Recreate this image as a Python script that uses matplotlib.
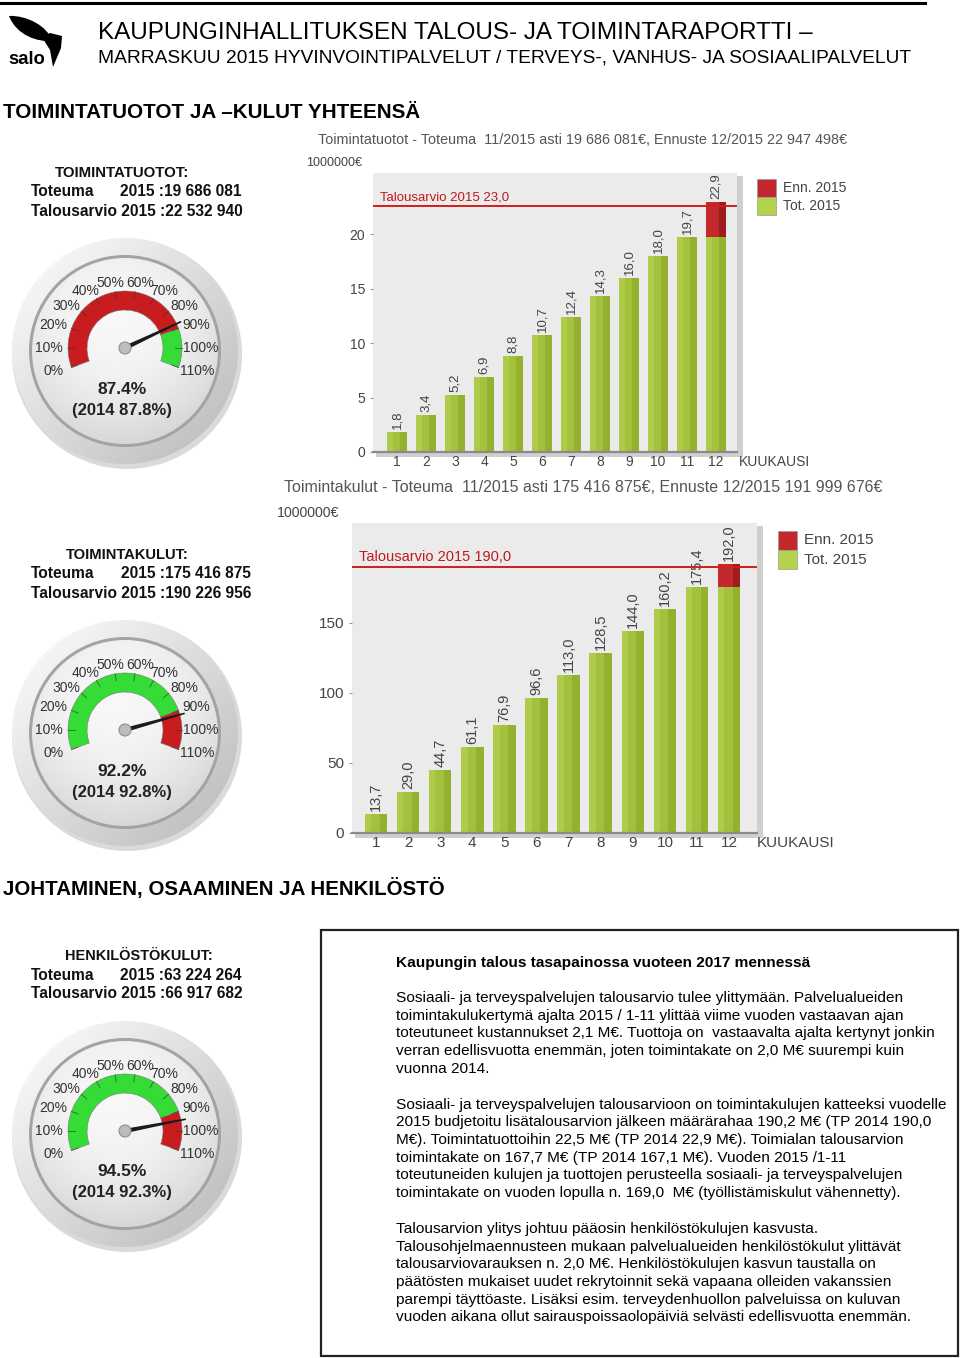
import numpy as np
import matplotlib
matplotlib.use("Agg")
import matplotlib.pyplot as plt
from matplotlib.patches import Circle, Wedge, Rectangle, Polygon, PathPatch
from matplotlib.path import Path

plt.rcParams['font.family'] = ['Liberation Sans', 'DejaVu Sans']

W, H = 960, 1358

# ---- data ----
months = list(range(1, 13))
last_actual = 11  # month 12 is forecast (Enn.)
tuotot = [1.8, 3.4, 5.2, 6.9, 8.8, 10.7, 12.4, 14.3, 16.0, 18.0, 19.7, 22.9]
tuotot_ta = 22.53
tuotot_ta_label = "Talousarvio 2015 23,0"
tuotot_title = "Toimintatuotot - Toteuma  11/2015 asti 19 686 081€, Ennuste 12/2015 22 947 498€"
kulut = [13.7, 29.0, 44.7, 61.1, 76.9, 96.6, 113.0, 128.5, 144.0, 160.2, 175.4, 192.0]
kulut_ta = 190.2
kulut_ta_label = "Talousarvio 2015 190,0"
kulut_title = "Toimintakulut - Toteuma  11/2015 asti 175 416 875€, Ennuste 12/2015 191 999 676€"
legend_labels = ["Enn. 2015", "Tot. 2015"]

gauge_titles = ["TOIMINTATUOTOT:", "TOIMINTAKULUT:", "HENKILÖSTÖKULUT:"]
gauge_toteuma = ["19 686 081", "175 416 875", "63 224 264"]
gauge_budget = ["22 532 940", "190 226 956", "66 917 682"]
gauge_pct = [87.4, 92.2, 94.5]
gauge_prev = [87.8, 92.8, 92.3]
gauge_ticks = list(range(0, 111, 10))
gauge_split = 90

text_title = "Kaupungin talous tasapainossa vuoteen 2017 mennessä"
text_lines = [
    "Sosiaali- ja terveyspalvelujen talousarvio tulee ylittymään. Palvelualueiden",
    "toimintakulukertymä ajalta 2015 / 1-11 ylittää viime vuoden vastaavan ajan",
    "toteutuneet kustannukset 2,1 M€. Tuottoja on  vastaavalta ajalta kertynyt jonkin",
    "verran edellisvuotta enemmän, joten toimintakate on 2,0 M€ suurempi kuin",
    "vuonna 2014.",
    "",
    "Sosiaali- ja terveyspalvelujen talousarvioon on toimintakulujen katteeksi vuodelle",
    "2015 budjetoitu lisätalousarvion jälkeen määrärahaa 190,2 M€ (TP 2014 190,0",
    "M€). Toimintatuottoihin 22,5 M€ (TP 2014 22,9 M€). Toimialan talousarvion",
    "toimintakate on 167,7 M€ (TP 2014 167,1 M€). Vuoden 2015 /1-11",
    "toteutuneiden kulujen ja tuottojen perusteella sosiaali- ja terveyspalvelujen",
    "toimintakate on vuoden lopulla n. 169,0  M€ (työllistämiskulut vähennetty).",
    "",
    "Talousarvion ylitys johtuu pääosin henkilöstökulujen kasvusta.",
    "Talousohjelmaennusteen mukaan palvelualueiden henkilöstökulut ylittävät",
    "talousarviovarauksen n. 2,0 M€. Henkilöstökulujen kasvun taustalla on",
    "päätösten mukaiset uudet rekrytoinnit sekä vapaana olleiden vakanssien",
    "parempi täyttöaste. Lisäksi esim. terveydenhuollon palveluissa on kuluvan",
    "vuoden aikana ollut sairauspoissaolopäiviä selvästi edellisvuotta enemmän.",
]

RED = '#c81c1e'
GREEN = '#35dc35'
BAR_G = '#a3c13c'
BAR_R = '#c3282c'

fig = plt.figure(figsize=(W / 100, H / 100), dpi=100)
bg = fig.add_axes([0, 0, 1, 1])
bg.axis('off')
renderer = fig.canvas.get_renderer()


def fit(x, y, s, width, size=10, **kw):
    # draw text and scale it so it spans `width` pixels
    kw.setdefault('va', 'center')
    t = bg.text(x, y, s, fontsize=size, **kw)
    w = t.get_window_extent(renderer).width
    t.set_fontsize(size * width / w)
    return t


def disc_image(cx, cy, r, vals, z):
    clip = Circle((cx, cy), r, fc='none', ec='none')
    bg.add_patch(clip)
    im = bg.imshow(vals, extent=(cx - r, cx + r, cy + r, cy - r), cmap='gray',
                   vmin=0, vmax=1, zorder=z, interpolation='bilinear')
    im.set_clip_path(clip)


def gauge(hx, hy, k):
    pct = gauge_pct[k]
    cy = hy + 3
    n = 200
    yy, xx = np.mgrid[-1:1:n * 1j, -1:1:n * 1j]
    bg.add_patch(Circle((hx + 2, cy + 3), 115, fc='#dadada', ec='none', zorder=1))
    disc_image(hx, cy, 113, 0.86 - 0.07 * (xx + yy), 2)
    bg.add_patch(Circle((hx, cy), 96, fc='#a3a3a3', ec='none', zorder=3))
    disc_image(hx, cy, 93, 0.97 - 0.07 * ((xx + 0.1) ** 2 + (yy + 0.35) ** 2), 4)

    low, high = (RED, GREEN) if k == 0 else (GREEN, RED)
    for p0, p1, c in [(0, gauge_split, low), (gauge_split, 110, high)]:
        bg.add_patch(Wedge((hx, hy), 57, 2 * p0 - 200, 2 * p1 - 200, width=19,
                           fc=c, ec='#777777', lw=0.4, zorder=5))
    for p in gauge_ticks:
        a = np.radians(200 - 2 * p)
        bg.plot([hx + 50 * np.cos(a), hx + 57 * np.cos(a)],
                [hy - 50 * np.sin(a), hy - 57 * np.sin(a)],
                color='#333333', lw=0.7, alpha=0.6, zorder=6)
        bg.text(hx + 74 * np.cos(a) + 2.2 * np.sign(np.cos(a)), hy - 66 * np.sin(a),
                f"{p}%", fontsize=10, color='#333333', ha='center', va='center', zorder=6)

    a = np.radians(200 - 2 * pct)
    d = np.array([np.cos(a), -np.sin(a)])
    nrm = np.array([-d[1], d[0]])
    base = np.array([hx, hy])
    tip = base + 62 * d
    bg.add_patch(Polygon([base + 2.2 * nrm, tip + 0.8 * nrm, tip - 0.8 * nrm, base - 2.2 * nrm],
                         fc='#1a1a1a', ec='none', zorder=7))
    bg.add_patch(Circle((hx, hy), 6, fc='#bdbdbd', ec='#8f8f8f', lw=0.8, zorder=8))

    bg.text(hx - 3, hy + 41, f"{pct:.1f}%", fontsize=12.5, weight='bold',
            color='#222222', ha='center', va='center', zorder=6)
    bg.text(hx - 3, hy + 62, f"(2014 {gauge_prev[k]:.1f}%)", fontsize=12,
            weight='bold', color='#222222', ha='center', va='center', zorder=6)


def gauge_header(hy, k, title_cx, title_w, right):
    fit(title_cx, hy - 175, gauge_titles[k], title_w, size=12,
        weight='bold', color='#111111', ha='center')
    t = fit(31, hy - 137, f"Talousarvio 2015 :{gauge_budget[k]}", right - 31, size=12,
            weight='bold', color='#111111', ha='left')
    fs = t.get_fontsize()
    bg.text(31, hy - 156, "Toteuma", fontsize=fs, weight='bold',
            color='#111111', ha='left', va='center')
    bg.text(right, hy - 156, f"2015 :{gauge_toteuma[k]}", fontsize=fs,
            weight='bold', color='#111111', ha='right', va='center')


def bar_chart(box, vals, ta, ta_label, ymax, yticks, xlim, fs):
    x0, y0, x1, y1 = box
    bg.add_patch(Rectangle((x0 + 3, y0 + 3), x1 - x0 + 3, y1 - y0 + 2,
                           fc='#cfcfcf', ec='none'))
    ax = fig.add_axes([x0 / W, 1 - y1 / H, (x1 - x0) / W, (y1 - y0) / H])
    ax.set_facecolor('#ebebeb')
    m = np.array(months)
    v = np.array(vals)
    green = np.where(m <= last_actual, v, v[last_actual - 1])
    fc = m > last_actual
    ax.bar(m, green, width=0.7, color=BAR_G, zorder=2)
    ax.bar(m - 0.25, green, width=0.2, color='#afcb4a', zorder=2)
    ax.bar(m + 0.23, green, width=0.24, color='#93b02f', zorder=2)
    ax.bar(m[fc], v[fc] - green[fc], bottom=green[fc], width=0.7, color=BAR_R, zorder=2)
    ax.bar(m[fc] + 0.23, v[fc] - green[fc], bottom=green[fc], width=0.24,
           color='#9e1c20', zorder=2)
    for mi, vi in zip(m, v):
        ax.annotate(f"{vi:.1f}".replace('.', ','), (mi, vi), xytext=(0, 3),
                    textcoords='offset pixels', rotation=90, ha='center', va='bottom',
                    fontsize=fs, color='#444444')
    ax.axhline(ta, color='#d01e1e', lw=1.4, zorder=3)
    ax.annotate(ta_label, (0, ta), xycoords=('axes fraction', 'data'), xytext=(7, 3),
                textcoords='offset pixels', va='bottom', ha='left', fontsize=fs,
                color='#c0191e')
    ax.set_xlim(*xlim)
    ax.set_ylim(0, ymax)
    ax.set_xticks(m)
    ax.set_yticks(yticks)
    ax.tick_params(axis='x', length=0, pad=2, labelsize=fs + 0.5, labelcolor='#444444')
    ax.tick_params(axis='y', length=2.5, width=0.8, color='#999999', pad=3,
                   labelsize=fs + 0.5, labelcolor='#444444')
    for s in ['top', 'left', 'right']:
        ax.spines[s].set_visible(False)
    ax.spines['bottom'].set_color('#8a8a8a')
    ax.spines['bottom'].set_linewidth(1.6)
    return ax


# ---- header ----
bg.plot([0, 925], [3, 3], color='black', lw=2.2)
leaf = Path([(9, 16), (26, 15), (48, 26), (52, 41), (38, 42), (17, 36), (9, 16)],
            [Path.MOVETO, Path.CURVE4, Path.CURVE4, Path.CURVE4, Path.CURVE4,
             Path.CURVE4, Path.CURVE4])
bg.add_patch(PathPatch(leaf, fc='black', ec='none'))
bg.add_patch(Polygon([(42, 37), (50, 33), (62, 36), (61, 48), (53, 67), (50, 50), (45, 42)],
                     fc='black', ec='none'))
fit(8, 59, "salo", 37, size=16, weight='bold', color='black', ha='left')
fit(98, 33, "KAUPUNGINHALLITUKSEN TALOUS- JA TOIMINTARAPORTTI –", 714, size=17,
    color='black', ha='left')
fit(98, 58, "MARRASKUU 2015 HYVINVOINTIPALVELUT / TERVEYS-, VANHUS- JA SOSIAALIPALVELUT",
    809, size=13, color='black', ha='left')
fit(3, 112, "TOIMINTATUOTOT JA –KULUT YHTEENSÄ", 419, size=14, weight='bold',
    color='black', ha='left')
fit(3, 888, "JOHTAMINEN, OSAAMINEN JA HENKILÖSTÖ", 444, size=14, weight='bold',
    color='black', ha='left')

# ---- gauges ----
gauge_header(348, 0, 122, 134, 242)
gauge(125, 348, 0)
gauge_header(730, 1, 127, 123, 251)
gauge(125, 730, 1)
gauge_header(1131, 2, 139, 147, 242)
gauge(125, 1131, 2)

# ---- bar charts ----
fit(318, 140, tuotot_title, 528, size=10, color='#555555', ha='left')
fit(306, 163, "1000000€", 56, size=9, color='#444444', ha='left')
bar_chart((373, 173, 737, 452), tuotot, tuotot_ta, tuotot_ta_label, 25.6,
          [0, 5, 10, 15, 20], (0.17, 12.72), 9.5)
bg.text(739, 462, "KUUKAUSI", fontsize=10, color='#444444', ha='left', va='center')

fit(284, 487, kulut_title, 598, size=11, color='#555555', ha='left')
fit(277, 513, "1000000€", 63, size=10, color='#444444', ha='left')
bar_chart((352, 523, 757, 833), kulut, kulut_ta, kulut_ta_label, 221.4,
          [0, 50, 100, 150], (0.25, 12.87), 10.5)
bg.text(757, 843, "KUUKAUSI", fontsize=11, color='#444444', ha='left', va='center')

# legends
for (lx, ly, sq, fs) in [(757, 179, 18, 10), (778, 531, 19, 11)]:
    for i, (lab, c) in enumerate(zip(legend_labels, [BAR_R, '#b5d24e'])):
        bg.add_patch(Rectangle((lx, ly + i * sq), 19, sq, fc=c, ec='#999999', lw=0.5))
        bg.text(lx + 26, ly + i * sq + sq / 2, lab, fontsize=fs, color='#444444',
                ha='left', va='center')

# ---- text box ----
bg.add_patch(Rectangle((321, 930), 637, 426, fc='none', ec='#222222', lw=1.6))
fit(396, 963, text_title, 413, size=11, weight='bold', color='black', ha='left')
longest = max(text_lines, key=len)
probe = fit(396, -100, longest, 550, size=11, ha='left')
body_fs = probe.get_fontsize()
probe.remove()
for i, line in enumerate(text_lines):
    if line:
        bg.text(396, 998 + i * 17.75, line, fontsize=body_fs, color='black',
                ha='left', va='center')

bg.set_xlim(0, W)
bg.set_ylim(H, 0)
bg.set_aspect('auto')
fig.savefig("out.png", dpi=100)
